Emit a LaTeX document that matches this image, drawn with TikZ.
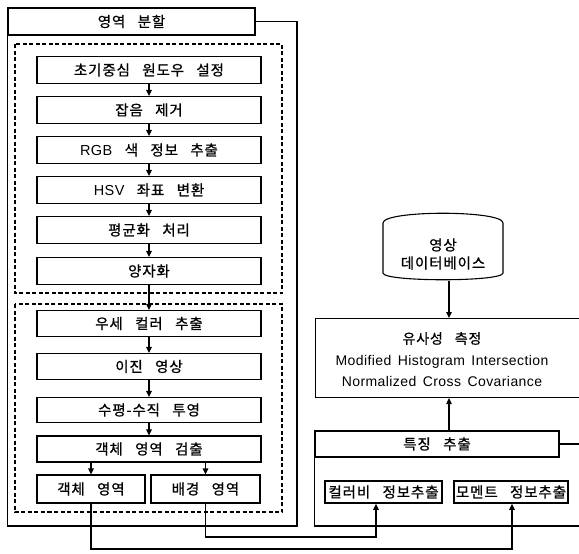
\documentclass[tikz,border=0pt]{standalone}
\usepackage{fontspec}
\setmainfont[WordSpace=1.5]{Liberation Sans}
\newfontfamily\en[LetterSpace=3,WordSpace=1.5]{Liberation Sans}
\newfontfamily\kr[LetterSpace=6,WordSpace=3,FakeBold=0.8]{Noto Sans CJK KR}
\usetikzlibrary{arrows.meta,calc}
\begin{document}
\begin{tikzpicture}[x=1pt,y=-1pt,line width=1.1pt,
  kfont/.style={font=\kr\fontsize{14.5}{16}\selectfont},
  box/.style={draw,kfont,minimum width=224pt,minimum height=27pt,inner sep=0pt},
  sbox/.style={draw,kfont,minimum height=28pt,inner sep=0pt},
  ibox/.style={draw,kfont,line width=1.5pt,minimum height=22pt,inner sep=0pt},
  hdr/.style={draw,kfont,minimum height=27pt,inner sep=0pt},
  arr/.style={-{Triangle[length=6pt,width=5.5pt]}},
  grp/.style={draw,dash pattern=on 4pt off 2.5pt}]
\clip (0,0) rectangle (579,554);
\fill[white] (0,0) rectangle (579,554);

% left region
\node[hdr,minimum width=247pt] (hdrL) at (131.5,21.5) {영역 분할};
\coordinate (LR) at (297,526);
\draw (hdrL.east) -| (LR) -| (hdrL.south west);

\draw[grp] (15,44) rectangle (282,293);
\draw[grp] (15,304) rectangle (282,512);

\node[box] (b1) at (149,70) {초기중심 원도우 설정};
\node[box] (b2) at (149,110) {잡음 제거};
\node[box] (b3) at (149,150) {{\en RGB} 색 정보 추출};
\node[box] (b4) at (149,190) {{\en HSV} 좌표 변환};
\node[box] (b5) at (149,230) {평균화 처리};
\node[box] (b6) at (149,271) {양자화};

\node[box,minimum height=26pt] (c1) at (149,323.5) {우세 컬러 추출};
\node[box,minimum height=26pt] (c2) at (149,366.5) {이진 영상};
\node[box,minimum height=25pt] (c3) at (149,410) {수평-수직 투영};
\node[box,minimum height=26pt] (c4) at (149,449) {객체 영역 검출};

\node[sbox,minimum width=108pt] (o1) at (91,489) {객체 영역};
\node[sbox,minimum width=109pt] (o2) at (205.5,489) {배경 영역};

\draw[arr] (b1) -- (b2);
\draw[arr] (b2) -- (b3);
\draw[arr] (b3) -- (b4);
\draw[arr] (b4) -- (b5);
\draw[arr] (b5) -- (b6);
\draw[arr] (b6) -- (c1);
\draw[arr] (c1) -- (c2);
\draw[arr] (c2) -- (c3);
\draw[arr] (c3) -- (c4);
\draw[arr] (c4.south -| o1) -- (o1);
\draw[arr] (c4.south -| o2) -- (o2);

% right region
\draw (383,223) .. controls (383,210) and (503,210) .. (503,223) -- (503,273)
      .. controls (503,282) and (383,282) .. (383,273) -- cycle;
\node[align=center,font=\kr\fontsize{14.5}{18}\selectfont,minimum height=52pt,inner sep=0pt] (db) at (443,254) {영상\\데이터베이스};

\node[draw,anchor=north west,minimum width=285pt,minimum height=79pt,inner sep=0pt] (sim) at (315,318) {};
\node[align=center,font=\en\fontsize{14}{21.5}\selectfont,inner sep=0pt] (simt) at (442,359.5)
  {{\kr 유사성 측정}\\Modified Histogram Intersection\\Normalized Cross Covariance};

\node[hdr,minimum width=244pt,minimum height=26pt] (feat) at (437,444) {특징 추출};
\coordinate (RB) at (600,526);
\draw (feat.east) -| (RB) -| (feat.south west);

\node[ibox,minimum width=117pt] (col) at (383.5,492) {컬러비 정보추출};
\node[ibox,minimum width=114pt] (mom) at (511,492) {모멘트 정보추출};

\draw[arr] ([xshift=6pt]db.south) -- ([xshift=6pt]db.south |- sim.north);
\draw[arr] ([xshift=12pt]feat.north) -- ([xshift=12pt]feat.north |- sim.south);

\coordinate (j1) at (512,549);
\coordinate (j2) at (376,537);
\draw[arr] (o2.south) |- (j2) -- (j2 |- col.south);
\draw[arr] (o1.south) |- (j1) -- (j1 |- mom.south);
\end{tikzpicture}
\end{document}
